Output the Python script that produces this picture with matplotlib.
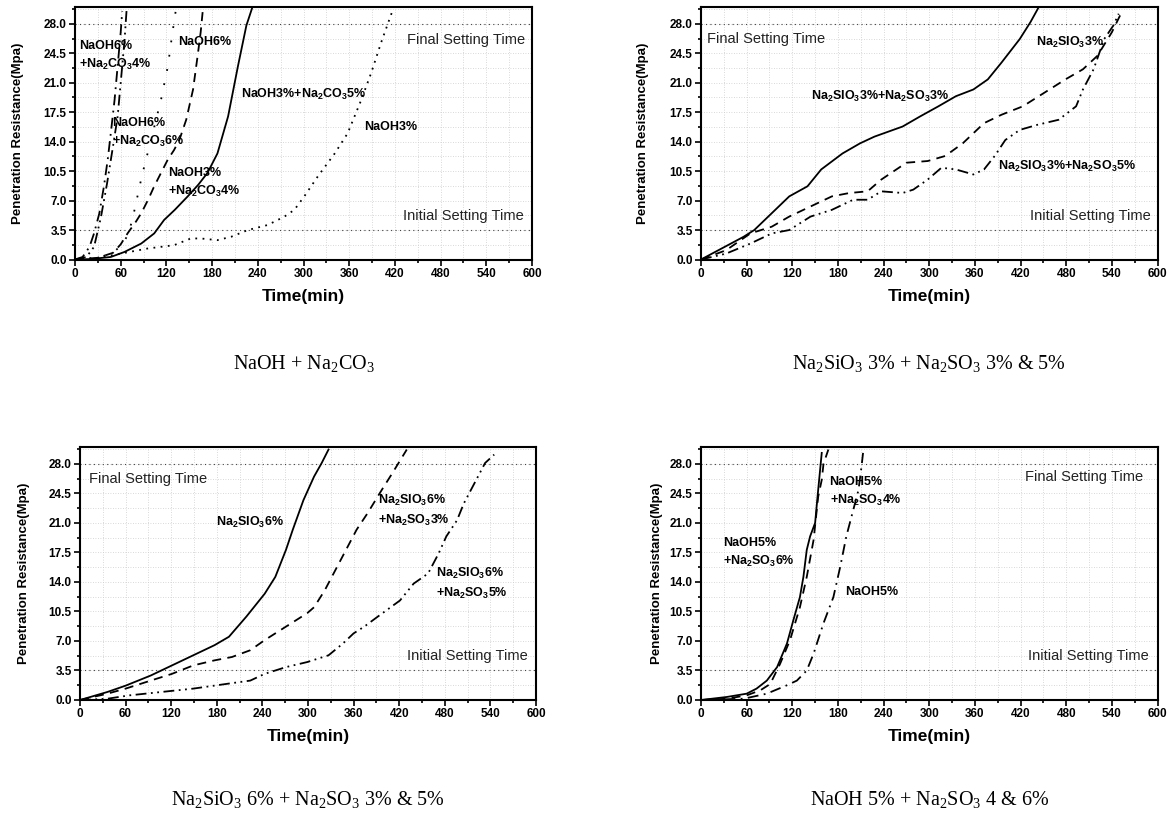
import numpy as np
import matplotlib.pyplot as plt
from matplotlib.ticker import FormatStrFormatter

plt.rcParams['font.family'] = ['Liberation Sans', 'DejaVu Sans']
plt.rcParams['mathtext.default'] = 'regular'

NARROW = ['Liberation Sans Narrow', 'Liberation Sans', 'DejaVu Sans']
SERIF = ['Liberation Serif', 'DejaVu Serif']

# ---- panel 1: NaOH + Na2CO3
p1_a_t = [0, 10, 19, 25, 32, 38, 43, 47, 52, 56, 60, 62]
p1_a_v = [0, 0.3, 1.5, 3.1, 5.5, 8.7, 11.9, 15, 19, 23, 27, 29.5]
p1_b_t = [0, 15, 25, 34, 42, 50, 56, 61, 65, 68]
p1_b_v = [0, 0.3, 1.5, 5, 9, 13.5, 17, 22, 26, 30]
p1_c_t = [0, 30, 50, 62, 70, 76, 82, 88, 95, 102, 113, 122, 128, 133]
p1_c_v = [0, 0.2, 0.8, 1.8, 3, 5, 7.5, 10, 12.5, 15, 19, 23, 27, 30]
p1_d_t = [0, 30, 50, 60, 69, 80, 87, 96, 104, 113, 122, 130, 137, 146, 155, 161, 165, 168]
p1_d_v = [0, 0.2, 0.8, 1.8, 3.1, 4.5, 5.5, 7.1, 8.7, 10.3, 11.9, 13, 14.2, 16.6, 20.2, 24.2, 27, 29.8]
p1_e_t = [0, 20, 47, 65, 87, 104, 117, 131, 148, 162, 174, 187, 201, 214, 225, 233]
p1_e_v = [0, 0.05, 0.3, 0.9, 1.9, 3.1, 4.7, 5.9, 7.5, 8.9, 10.3, 12.6, 17, 23, 27.8, 30]
p1_f_t = [0, 30, 60, 95, 130, 152, 165, 187, 205, 227, 253, 275, 288, 301, 319, 341, 358, 376, 389, 402, 417]
p1_f_v = [0, 0.2, 0.7, 1.3, 1.7, 2.5, 2.5, 2.3, 2.7, 3.5, 4.1, 5.1, 5.9, 7.5, 9.9, 12.6, 15, 19, 22.2, 25.8, 29.6]

# ---- panel 2: Na2SiO3 3% + Na2SO3 3% & 5%
p2_s_t = [0, 56, 70, 93, 116, 140, 158, 186, 209, 228, 265, 288, 312, 335, 358, 377, 395, 419, 433, 444]
p2_s_v = [0, 2.7, 3.5, 5.5, 7.5, 8.7, 10.7, 12.6, 13.8, 14.6, 15.8, 17, 18.2, 19.4, 20.2, 21.4, 23.4, 26.2, 28.2, 30]
p2_d_t = [0, 33, 65, 93, 116, 144, 172, 195, 219, 237, 270, 298, 321, 344, 372, 395, 423, 451, 479, 502, 521, 540, 553]
p2_d_v = [0, 1.1, 3.1, 3.9, 5.1, 6.3, 7.5, 7.9, 8.1, 9.5, 11.5, 11.7, 12.3, 13.8, 16.2, 17.2, 18.2, 19.8, 21.4, 22.6, 24.2, 27, 29.4]
p2_dd_t = [0, 33, 65, 93, 116, 144, 172, 200, 219, 237, 265, 279, 298, 316, 335, 358, 372, 386, 400, 419,
           442, 470, 493, 502, 516, 530, 542, 549]
p2_dd_v = [0, 0.7, 1.9, 3.1, 3.5, 5.1, 5.9, 7.1, 7.1, 8.1, 7.9, 8.3, 9.5, 10.9, 10.7, 10.1, 10.7, 12.3, 14.2, 15.4,
           16, 16.6, 18.2, 20.2, 22.6, 26.2, 27.8, 29.2]

# ---- panel 3: Na2SiO3 6% + Na2SO3 3% & 5%
p3_s_t = [0, 36, 60, 93, 121, 149, 177, 196, 219, 243, 257, 271, 280, 294, 308, 318, 327]
p3_s_v = [0, 0.95, 1.7, 2.9, 4.1, 5.3, 6.5, 7.5, 9.9, 12.6, 14.6, 17.8, 20.2, 23.7, 26.5, 28.1, 29.7]
p3_d_t = [0, 36, 60, 93, 121, 149, 177, 200, 224, 243, 271, 299, 308, 322, 336, 350, 364, 378, 397, 411, 430]
p3_d_v = [0, 0.75, 1.35, 2.3, 3.1, 4.1, 4.7, 5.1, 5.9, 7.1, 8.7, 10.3, 11, 13, 15.4, 17.8, 20.2, 22.1, 24.9, 26.9, 29.7]
p3_dd_t = [0, 36, 65, 107, 149, 196, 224, 243, 271, 299, 327, 346, 360, 374, 392, 421, 439, 458, 472, 482, 496,
           505, 519, 533, 545]
p3_dd_v = [0, 0.15, 0.55, 0.95, 1.35, 1.95, 2.3, 3.1, 3.9, 4.5, 5.3, 6.7, 7.9, 8.7, 9.9, 11.8, 13.8, 15, 17.4, 19.4,
           21.3, 23.3, 25.7, 28.1, 29.1]

# ---- panel 4: NaOH 5% + Na2SO3 4 & 6%
p4_s_t = [0, 34, 60, 73, 86.5, 100, 113, 121.5, 130, 134.6, 139, 143.4, 150, 154, 158.7]
p4_s_v = [0, 0.36, 0.75, 1.35, 2.3, 3.9, 6.7, 9.5, 12.2, 14.6, 17.8, 19.4, 21, 24.9, 29.3]
p4_d_t = [0, 34, 60, 78, 91, 104, 117, 130, 139, 148, 154, 158.7, 161, 167.4]
p4_d_v = [0, 0.15, 0.55, 1.15, 1.9, 4.3, 7.1, 11, 14.6, 19, 24.1, 26.1, 28, 29.7]
p4_dd_t = [0, 56, 86.5, 113, 126, 139, 148, 161, 174, 183, 191, 200, 207, 211, 213]
p4_dd_v = [0, 0.15, 0.75, 1.75, 2.3, 3.5, 5.5, 9.1, 12.2, 15.8, 19.4, 22.5, 24.9, 27.7, 29.3]

captions = [r'NaOH + Na$_2$CO$_3$',
            r'Na$_2$SiO$_3$ 3% + Na$_2$SO$_3$ 3% & 5%',
            r'Na$_2$SiO$_3$ 6% + Na$_2$SO$_3$ 3% & 5%',
            r'NaOH 5% + Na$_2$SO$_3$ 4 & 6%']

SOLID = '-'
DASH = (0, (5, 3.5))
DASHDOT = (0, (6, 3, 1, 3))
DASHDOTDOT = (0, (6, 2.5, 1, 2.5, 1, 2.5))
DOT = (0, (1, 3))
LOOSEDOT = (0, (1, 7))

W, H = 1175, 819
fig = plt.figure(figsize=(W / 100, H / 100), dpi=100)


def box(l, r, t, b):
    return [l / W, 1 - b / H, (r - l) / W, (b - t) / H]


def style(ax, ylab_x):
    ax.set_xlim(0, 600)
    ax.set_ylim(0, 30)
    ax.set_xticks(np.arange(0, 601, 60))
    ax.set_xticks(np.arange(0, 601, 30), minor=True)
    ax.set_yticks(np.arange(0, 28.1, 3.5))
    ax.set_yticks(np.arange(0, 29.9, 1.75), minor=True)
    ax.yaxis.set_major_formatter(FormatStrFormatter('%.1f'))
    ax.grid(which='both', color='#cccccc', linestyle=(0, (1, 2)), linewidth=0.6)
    ax.set_axisbelow(True)
    ax.tick_params(which='both', direction='out', top=False, right=False, width=1.2, pad=2)
    ax.tick_params(which='major', length=4)
    ax.tick_params(which='minor', length=2.5)
    for lab in ax.get_xticklabels() + ax.get_yticklabels():
        lab.set_fontweight('bold')
        lab.set_family(NARROW)
        lab.set_fontsize(8.5)
    for s in ax.spines.values():
        s.set_linewidth(1.5)
    ax.axhline(28, color='#444444', ls=(0, (1, 3)), lw=0.8)
    ax.axhline(3.5, color='#444444', ls=(0, (1, 3)), lw=0.8)
    ax.set_xlabel('Time(min)', fontsize=12.5, fontweight='bold', family=NARROW)
    ax.xaxis.set_label_coords(0.5, -0.115)
    ax.set_ylabel('Penetration Resistance(Mpa)', fontsize=9.5, fontweight='bold')
    ax.yaxis.set_label_coords(ylab_x, 0.5)


def note(ax, x, y, s, ha='left'):
    ax.text(x, y, s, fontsize=10.5, family=NARROW, color='#222222', ha=ha, va='center')


def lab(ax, x, y, s):
    ax.text(x, y, s, fontsize=9, fontweight='bold', ha='left', va='center', linespacing=1.45)


lw = 1.3

ax1 = fig.add_axes(box(75, 532, 7, 259.5))
style(ax1, -0.112)
ax1.plot(p1_a_t, p1_a_v, color='k', lw=lw, ls=DASHDOT)
ax1.plot(p1_b_t, p1_b_v, color='k', lw=lw, ls=DASHDOTDOT)
ax1.plot(p1_c_t, p1_c_v, color='k', lw=lw, ls=LOOSEDOT)
ax1.plot(p1_d_t, p1_d_v, color='k', lw=lw, ls=DASH)
ax1.plot(p1_e_t, p1_e_v, color='k', lw=lw, ls=SOLID)
ax1.plot(p1_f_t, p1_f_v, color='k', lw=lw, ls=DOT)
note(ax1, 591, 26.1, 'Final Setting Time', ha='right')
note(ax1, 589, 5.2, 'Initial Setting Time', ha='right')
lab(ax1, 5, 24.2, 'NaOH6%\n+Na$_2$CO$_3$4%')
lab(ax1, 135, 25.8, 'NaOH6%')
lab(ax1, 218, 19.6, 'NaOH3%+Na$_2$CO$_3$5%')
lab(ax1, 380, 15.8, 'NaOH3%')
lab(ax1, 49, 15.0, 'NaOH6%\n+Na$_2$CO$_3$6%')
lab(ax1, 122, 9.1, 'NaOH3%\n+Na$_2$CO$_3$4%')

ax2 = fig.add_axes(box(701, 1157.5, 7, 259.5))
style(ax2, -0.114)
ax2.plot(p2_s_t, p2_s_v, color='k', lw=lw, ls=SOLID)
ax2.plot(p2_d_t, p2_d_v, color='k', lw=lw, ls=DASH)
ax2.plot(p2_dd_t, p2_dd_v, color='k', lw=lw, ls=DASHDOTDOT)
note(ax2, 8, 26.2, 'Final Setting Time')
note(ax2, 591, 5.2, 'Initial Setting Time', ha='right')
lab(ax2, 144, 19.4, 'Na$_2$SIO$_3$3%+Na$_2$SO$_3$3%')
lab(ax2, 440, 25.8, 'Na$_2$SIO$_3$3%')
lab(ax2, 391, 11.1, 'Na$_2$SIO$_3$3%+Na$_2$SO$_3$5%')

ax3 = fig.add_axes(box(80, 536, 447, 700))
style(ax3, -0.110)
ax3.plot(p3_s_t, p3_s_v, color='k', lw=lw, ls=SOLID)
ax3.plot(p3_d_t, p3_d_v, color='k', lw=lw, ls=DASH)
ax3.plot(p3_dd_t, p3_dd_v, color='k', lw=lw, ls=DASHDOTDOT)
note(ax3, 12, 26.2, 'Final Setting Time')
note(ax3, 589, 5.2, 'Initial Setting Time', ha='right')
lab(ax3, 179, 21, 'Na$_2$SIO$_3$6%')
lab(ax3, 392, 22.5, 'Na$_2$SIO$_3$6%\n+Na$_2$SO$_3$3%')
lab(ax3, 468, 13.8, 'Na$_2$SIO$_3$6%\n+Na$_2$SO$_3$5%')

ax4 = fig.add_axes(box(701, 1157.5, 447, 700))
style(ax4, -0.084)
ax4.plot(p4_s_t, p4_s_v, color='k', lw=lw, ls=SOLID)
ax4.plot(p4_d_t, p4_d_v, color='k', lw=lw, ls=DASH)
ax4.plot(p4_dd_t, p4_dd_v, color='k', lw=lw, ls=DASHDOT)
note(ax4, 581, 26.4, 'Final Setting Time', ha='right')
note(ax4, 589, 5.2, 'Initial Setting Time', ha='right')
lab(ax4, 169, 24.7, 'NaOH5%\n+Na$_2$SO$_3$4%')
lab(ax4, 29, 17.4, 'NaOH5%\n+Na$_2$SO$_3$6%')
lab(ax4, 189, 12.8, 'NaOH5%')

for ax, cap, y in zip([ax1, ax2, ax3, ax4], captions, [363, 363, 800, 800]):
    pos = ax.get_position()
    fig.text(pos.x0 + pos.width / 2, 1 - y / H, cap, fontsize=14.5, family=SERIF,
             ha='center', va='center')

fig.savefig('out.png', dpi=100)
